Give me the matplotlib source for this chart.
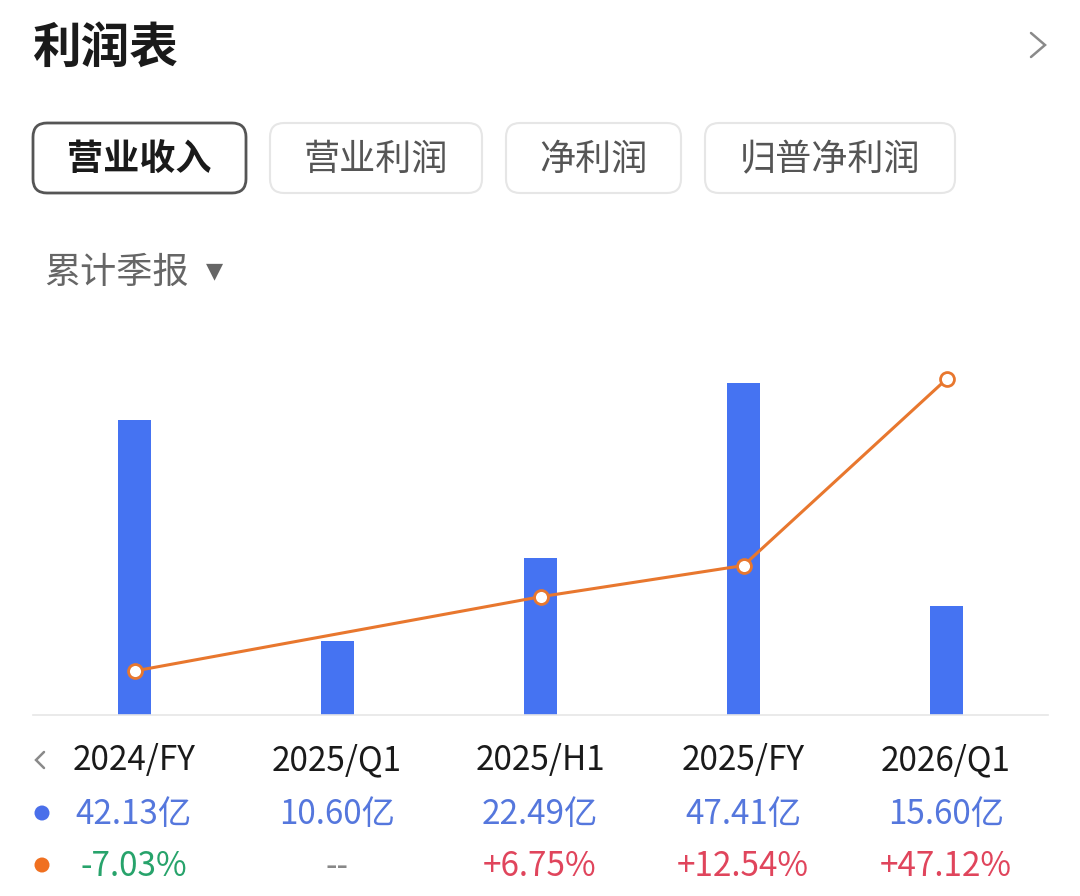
import numpy as np
import matplotlib.pyplot as plt
from matplotlib.patches import FancyBboxPatch, Ellipse
from matplotlib.lines import Line2D

plt.rcParams['font.family'] = ['Noto Sans CJK SC', 'DejaVu Sans']

# data
periods = ['2024/FY', '2025/Q1', '2025/H1', '2025/FY', '2026/Q1']
revenue = [42.13, 10.60, 22.49, 47.41, 15.60]          # 亿
growth = [-7.03, None, 6.75, 12.54, 47.12]              # % yoy
tabs = ['营业收入', '营业利润', '净利润', '归普净利润']

W, H = 1080, 896
BLUE = '#4573F2'
ORANGE = '#E8772E'


def fx(px):
    return px / W


def fy(py):
    return 1 - py / H


def chevron(pts, color='#8a8a8a', lw=2.0):
    # thin arrow glyph drawn as a polyline in pixel coords
    fig.add_artist(Line2D([fx(p[0]) for p in pts], [fy(p[1]) for p in pts],
                          transform=fig.transFigure, color=color, lw=lw,
                          solid_capstyle='round', solid_joinstyle='miter'))


fig = plt.figure(figsize=(W / 100, H / 100), dpi=100)
fig.patch.set_facecolor('white')

# header
fig.text(fx(33), fy(48), '利润表', fontsize=35, fontweight='bold', color='#1a1a1a',
         va='center', ha='left')
chevron([(1031, 33), (1045, 45), (1031, 57)], lw=1.8)

# tab buttons
tab_boxes = [(33, 246), (270, 482), (506, 681), (705, 955)]
for i, (name, (x0, x1)) in enumerate(zip(tabs, tab_boxes)):
    active = i == 0
    box = FancyBboxPatch((fx(x0), fy(193)), fx(x1 - x0), (193 - 123) / H,
                         boxstyle='round,pad=0,rounding_size=0.013',
                         transform=fig.transFigure, facecolor='white',
                         edgecolor='#555555' if active else '#e6e6e6',
                         linewidth=2.0 if active else 1.5, mutation_aspect=W / H)
    fig.add_artist(box)
    fig.text(fx((x0 + x1) / 2), fy(160), name, fontsize=26,
             fontweight='bold' if active else 'normal',
             color='#1a1a1a' if active else '#555555', ha='center', va='center')

fig.text(fx(44), fy(273), '累计季报', fontsize=26, color='#666666', ha='left', va='center')
fig.text(fx(215), fy(271), '▼', fontsize=16, color='#666666', ha='center', va='center',
         family=['DejaVu Sans'])

# chart area
ax = fig.add_axes([fx(33), fy(715), fx(1048 - 33), (715 - 340) / H])
x = np.arange(len(periods))
ax.bar(x, revenue, width=0.158, color=BLUE, zorder=2)
ax.set_xlim(-0.5, 4.5)
ax.set_ylim(0, (715 - 340) / 7.0)
ax.set_xticks([])
ax.set_yticks([])
for s in ['top', 'left', 'right']:
    ax.spines[s].set_visible(False)
ax.spines['bottom'].set_color('#e6e6e6')
ax.spines['bottom'].set_linewidth(1.2)

ax2 = ax.twinx()
gx = [i for i, g in enumerate(growth) if g is not None]
gy = [g for g in growth if g is not None]
ax2.plot(gx, gy, color=ORANGE, lw=2.2, marker='o', markersize=10,
         markerfacecolor='white', markeredgecolor=ORANGE, markeredgewidth=2, zorder=3)
ax2.set_ylim(-15.19, 54.38)
ax2.set_yticks([])
for s in ['top', 'left', 'right', 'bottom']:
    ax2.spines[s].set_visible(False)

# labels under the chart
centers = [134, 337, 540, 743, 946]
chevron([(44, 752), (36, 760), (44, 768)], lw=1.8)
for py, col in [(813, '#4A6FEA'), (865, '#F07020')]:
    fig.add_artist(Ellipse((fx(42), fy(py)), 15 / W, 15 / H, transform=fig.transFigure,
                           facecolor=col, edgecolor='none'))
for cx, p, r, g in zip(centers, periods, revenue, growth):
    fig.text(fx(cx), fy(761), p, fontsize=24, color='#1a1a1a', ha='center', va='center')
    fig.text(fx(cx), fy(814), f'{r:.2f}亿', fontsize=24, color='#5577DD',
             ha='center', va='center')
    if g is None:
        txt, col = '--', '#888888'
    elif g < 0:
        txt, col = f'{g:.2f}%', '#27A36B'
    else:
        txt, col = f'+{g:.2f}%', '#E0455C'
    fig.text(fx(cx), fy(866), txt, fontsize=24, color=col, ha='center', va='center')

fig.savefig('out.png', dpi=100, facecolor='white')
